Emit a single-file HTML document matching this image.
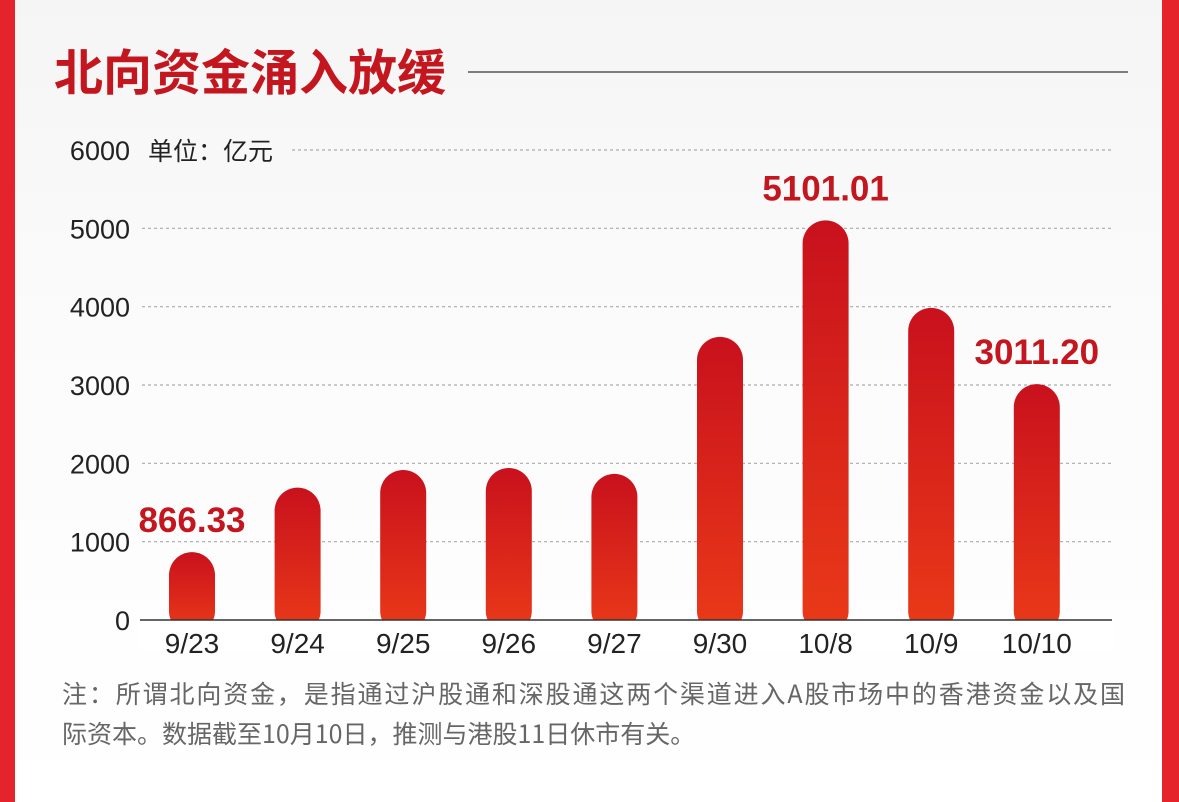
<!DOCTYPE html>
<html><head><meta charset="utf-8"><style>
body{margin:0;width:1179px;height:802px;overflow:hidden;background:#fff;font-family:"Liberation Sans","Noto Sans CJK SC",sans-serif;}
#wrap{position:relative;width:1179px;height:802px;background:linear-gradient(#f5f5f5,#fbfbfb 40%,#fff);}
</style></head><body>
<div id="wrap">
<div style="position:absolute;left:0;top:0;width:15px;height:802px;background:#e4232a"></div>
<div style="position:absolute;left:1162px;top:0;width:17px;height:802px;background:#e4232a"></div>
<svg id="chart" width="1179" height="802" style="position:absolute;left:0;top:0">
<defs><linearGradient id="g" x1="0" y1="0" x2="0" y2="1"><stop offset="0" stop-color="#c8111d"/><stop offset="1" stop-color="#ea3a18"/></linearGradient></defs>
<text x="54" y="90" font-size="49" font-weight="bold" fill="#c4161e" font-family="Noto Sans CJK SC,sans-serif">北向资金涌入放缓</text>
<line x1="468" y1="72" x2="1128" y2="72" stroke="#555" stroke-width="1.5"/>
<text x="148" y="160" font-size="25" fill="#222" font-family="Noto Sans CJK SC,sans-serif">单位：亿元</text>
<g id="grid"></g><g id="bars"></g>
<text x="62" y="703" font-size="25" fill="#666" font-family="Noto Sans CJK SC,sans-serif" textLength="1063">注：所谓北向资金，是指通过沪股通和深股通这两个渠道进入A股市场中的香港资金以及国</text>
<text x="62" y="743" font-size="25" fill="#666" font-family="Noto Sans CJK SC,sans-serif">际资本。数据截至10月10日，推测与港股11日休市有关。</text>
</svg>
</div>
<script>
const categories=["9/23","9/24","9/25","9/26","9/27","9/30","10/8","10/9","10/10"];
const values=[866.33,1690,1915,1940,1865,3614,5101.01,3984,3011.20];
const labels=["866.33","","","","","","5101.01","","3011.20"];
const yTicks=[0,1000,2000,3000,4000,5000,6000];
const NS="http://www.w3.org/2000/svg";
const y=v=>620-v*470/6000;
const x=i=>192+i*105.6;
function mk(t,a,p){const e=document.createElementNS(NS,t);for(const k in a)e.setAttribute(k,a[k]);p.appendChild(e);return e;}
const grid=document.getElementById('grid'),bars=document.getElementById('bars');
yTicks.forEach(v=>{
 const t=mk('text',{x:130,y:y(v)+10,'font-size':27,fill:'#222','text-anchor':'end'},grid);t.textContent=v;
 
 
 if(v>0){const l=mk('line',{x1:v==6000?292:142,x2:1112,y1:y(v),y2:y(v),stroke:'#aaa','stroke-dasharray':'3,3','stroke-width':1.2},grid);
 
 }
});
const xl=[];
categories.forEach((c,i)=>{
 const top=y(values[i]),h=620-top;
 const r=mk('rect',{x:x(i)-23,y:top,width:46,height:h+14,rx:23,fill:'url(#g)'},bars);
 
 
 if(labels[i]){const v=mk('text',{x:x(i),y:top-20,'font-size':35,'font-weight':'bold',fill:'#c4161e','text-anchor':'middle'},bars);v.textContent=labels[i];
 
 }
 xl.push([c,i]);
});
const m=mk('rect',{x:138,y:620,width:976,height:30,fill:'#fff'},bars);


xl.forEach(([c,i])=>{
 const t=mk('text',{x:x(i),y:653,'font-size':28,fill:'#222','text-anchor':'middle'},bars);t.textContent=c;
 
 
});
const ax=mk('line',{x1:140,x2:1112,y1:620,y2:620,stroke:'#333','stroke-width':1.5},bars);


</script>
</body></html>
